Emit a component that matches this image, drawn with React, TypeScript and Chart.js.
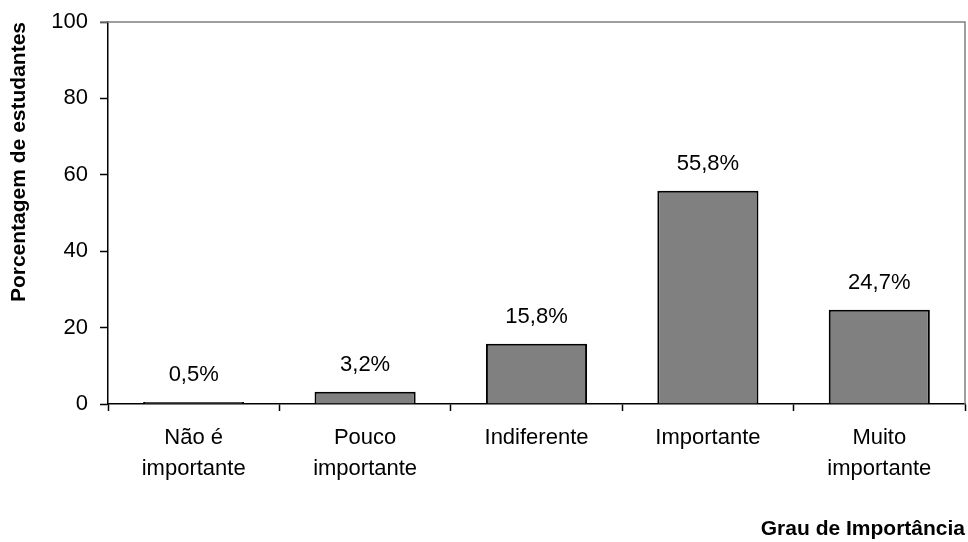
import React, { useEffect, useRef } from "react";
import { Chart, registerables } from "chart.js";

Chart.register(...registerables);

const categories: (string | string[])[] = [
  ["Não é", "importante"],
  ["Pouco", "importante"],
  "Indiferente",
  "Importante",
  ["Muito", "importante"],
];
const values: number[] = [0.5, 3.2, 15.8, 55.8, 24.7];
const yTicks: number[] = [0, 20, 40, 60, 80, 100];
const yTitle = "Porcentagem de estudantes";
const xTitle = "Grau de Importância";

const FONT = "'Liberation Sans', Arial, sans-serif";

const frame = {
  id: "frame",
  beforeDatasetsDraw(chart: any) {
    const { ctx, chartArea } = chart;
    ctx.save();
    ctx.strokeStyle = "#808080";
    ctx.lineWidth = 1.5;
    ctx.beginPath();
    ctx.moveTo(chartArea.left - 8, chartArea.top);
    ctx.lineTo(chartArea.right, chartArea.top);
    ctx.lineTo(chartArea.right, chartArea.bottom);
    ctx.stroke();
    ctx.restore();
  },
};

const valueLabels = {
  id: "valueLabels",
  afterDatasetsDraw(chart: any) {
    const { ctx } = chart;
    const meta = chart.getDatasetMeta(0);
    ctx.save();
    ctx.fillStyle = "#000";
    ctx.font = `22px ${FONT}`;
    ctx.textAlign = "center";
    ctx.textBaseline = "middle";
    meta.data.forEach((bar: any, i: number) => {
      const txt = values[i].toFixed(1).replace(".", ",") + "%";
      ctx.fillText(txt, bar.x, bar.y - 27);
    });
    ctx.restore();
  },
};

export default function App() {
  const ref = useRef<HTMLCanvasElement>(null);
  useEffect(() => {
    if (!ref.current) return;
    const chart = new Chart(ref.current, {
      type: "bar",
      data: {
        labels: categories,
        datasets: [
          {
            data: values,
            backgroundColor: "#808080",
            borderColor: "#000",
            borderWidth: 2,
            barPercentage: 0.59,
            categoryPercentage: 1,
          },
        ],
      },
      options: {
        responsive: false,
        animation: false,
        layout: { padding: { top: 22, right: 3, left: 0, bottom: 0 } },
        plugins: {
          legend: { display: false },
          tooltip: { enabled: false },
        },
        scales: {
          x: {
            afterFit: (s: any) => {
              s.height = 138;
              s.paddingLeft = 0;
              s.paddingRight = 0;
            },
            grid: {
              offset: true,
              drawOnChartArea: false,
              drawTicks: true,
              tickLength: 7,
              color: "#000",
              tickWidth: 1.5,
            },
            border: { color: "#000", width: 1.5 },
            ticks: {
              color: "#000",
              font: { family: FONT, size: 22, lineHeight: 1.4 },
              padding: 12,
              maxRotation: 0,
              autoSkip: false,
            },
            title: {
              display: true,
              text: xTitle,
              align: "end",
              color: "#000",
              font: { family: FONT, size: 21, weight: "bold" },
              padding: { top: 0, bottom: 0 },
            },
          },
          y: {
            min: 0,
            max: 100,
            afterFit: (s: any) => {
              s.width = 108;
              s.paddingTop = 0;
              s.paddingBottom = 0;
            },
            afterBuildTicks: (s: any) => {
              s.ticks = yTicks.map((v) => ({ value: v }));
            },
            grid: {
              drawOnChartArea: false,
              drawTicks: true,
              tickLength: 8,
              color: "#000",
              tickWidth: 1.5,
            },
            border: { color: "#000", width: 1.5 },
            ticks: {
              color: "#000",
              font: { family: FONT, size: 22 },
              padding: 12,
            },
            title: {
              display: true,
              text: yTitle,
              align: "end",
              color: "#000",
              font: { family: FONT, size: 21, weight: "bold" },
              padding: { top: 7, bottom: 0 },
            },
          },
        },
      },
      plugins: [frame, valueLabels],
    });
    return () => chart.destroy();
  }, []);
  return (
    <div style={{ position: "absolute", left: 0, top: 0, width: 968, height: 542, background: "#fff" }}>
      <canvas ref={ref} width={968} height={542} style={{ width: 968, height: 542 }} />
    </div>
  );
}
